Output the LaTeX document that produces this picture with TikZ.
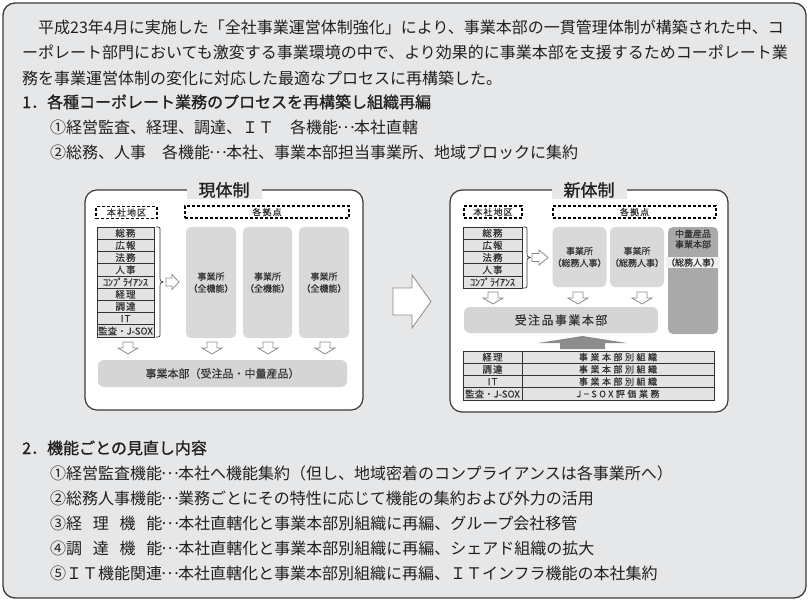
\documentclass[tikz,border=0pt]{standalone}
\usepackage{fontspec}
\setmainfont{Noto Sans CJK JP}
\newfontfamily\jpmed[FakeBold=1]{Noto Sans CJK JP}
\newfontfamily\jpdia[FakeBold=0.4]{Noto Sans CJK JP}
\newfontfamily\jpdiasp[FakeBold=0.4,LetterSpace=12]{Noto Sans CJK JP}
\newfontfamily\jpdiawide[FakeBold=0.4,LetterSpace=28]{Noto Sans CJK JP}
\newcommand\mydots{\makebox[1em][c]{\raisebox{0.3em}{.}\hspace{0.12em}\raisebox{0.3em}{.}\hspace{0.12em}\raisebox{0.3em}{.}}}
\definecolor{bg}{HTML}{E6E7E8}
\definecolor{frame}{HTML}{3A3A3A}
\definecolor{ink}{HTML}{231F20}
\definecolor{dink}{HTML}{333333}
\definecolor{cellf}{HTML}{E3E3E3}
\definecolor{colf}{HTML}{D9D9D9}
\definecolor{barf}{HTML}{D5D5D5}
\definecolor{darkcol}{HTML}{A9A9A9}
\definecolor{arrg}{HTML}{8C8C8C}
\tikzset{
  line/.style={anchor=west,inner sep=0pt,text=ink,font=\fontsize{16}{16}\selectfont,text height=14pt,text depth=2pt},
  head/.style={line,font=\jpmed\fontsize{16}{16}\selectfont},
  panel/.style={draw=frame,line width=1.2pt,fill=white,rounded corners=12pt},
  ptitle/.style={fill=bg,inner xsep=12pt,inner ysep=1pt,text=ink,font=\jpmed\fontsize{17}{17}\selectfont},
  dbox/.style={draw=black,line width=1.1pt,dash pattern=on 3pt off 2pt,fill=white,inner sep=0pt,text=dink,font=\jpdiasp\fontsize{9}{9}\selectfont},
  cell/.style={draw=dink,line width=0.6pt,fill=cellf,inner sep=0pt,text=dink,font=\jpdiasp\fontsize{9.5}{9.5}\selectfont},
  col/.style={fill=colf,rounded corners=5pt,inner sep=0pt,align=center,text=dink,font=\jpdia\fontsize{9}{12}\selectfont},
  bar/.style={fill=barf,rounded corners=6pt,inner sep=0pt,text=dink},
  blockarr/.style={draw=arrg,line width=0.8pt,fill=white,line join=miter},
  brace/.style={draw=dink,line width=0.7pt},
  downarr/.pic={\draw[blockarr] (-5,0) -- (5,0) -- (5,6) -- (10,6) -- (0,12) -- (-10,6) -- (-5,6) -- cycle;},
}
\begin{document}
\begin{tikzpicture}[x=1pt,y=-1pt]
\useasboundingbox (0,0) rectangle (810,602);
% outer frame
\draw[draw=frame,line width=1.3pt,fill=bg,rounded corners=12pt] (3,3) rectangle (806,598);

% top text
\node[line] (t1) at (22,28) {　平成23年4月に実施した「全社事業運営体制強化」により、事業本部の一貫管理体制が構築された中、コ};
\node[line] (t2) at (22,53) {ーポレート部門においても激変する事業環境の中で、より効果的に事業本部を支援するためコーポレート業};
\node[line] (t3) at (22,78) {務を事業運営体制の変化に対応した最適なプロセスに再構築した。};
\node[head] (t4) at (22,102) {1．各種コーポレート業務のプロセスを再構築し組織再編};
\node[line] (t5) at (50,127) {①経営監査、経理、調達、ＩＴ　各機能\mydots 本社直轄};
\node[line] (t6) at (50,152) {②総務、人事　各機能\mydots 本社、事業本部担当事業所、地域ブロックに集約};

% ===== left panel =====
\draw[panel] (85,190) rectangle (363,410);
\node[ptitle] (ltitle) at (224,190) {現体制};
\node[dbox,minimum width=61pt,minimum height=12pt] (lhq) at (126.5,212.5) {本社地区};
\node[dbox,minimum width=164pt,minimum height=12pt] (lbase) at (267,212) {各拠点};
\foreach \t [count=\i] in {総務,広報,法務,人事,{\jpdia\fontsize{10}{10}\selectfont ｺﾝﾌﾟﾗｲｱﾝｽ},経理,調達,IT,{\jpdia 監査・J-SOX}}
  \node[cell,minimum width=57pt,minimum height=12.22pt] (L\i) at (125.5,{227+12.22*(\i-0.5)}) {\t};
\draw[brace] (156,227) .. controls (160,227) .. (160,231) -- (160,278) .. controls (160,281) .. (163,282) .. controls (160,283) .. (160,286) -- (160,333) .. controls (160,337) .. (156,337);
\draw[blockarr] (166,278) -- (172,278) -- (172,274.5) -- (179,282) -- (172,289.5) -- (172,286) -- (166,286) -- cycle;
\node[col,minimum width=50pt,minimum height=111pt] (lc1) at (211,282.5) {事業所\\（全機能）};
\node[col,minimum width=49pt,minimum height=111pt] (lc2) at (267.5,282.5) {事業所\\（全機能）};
\node[col,minimum width=50pt,minimum height=111pt] (lc3) at (324,282.5) {事業所\\（全機能）};
\foreach \x in {128,212,268,325} \pic at (\x,342) {downarr};
\node[bar,minimum width=249pt,minimum height=27pt,font=\jpdia\fontsize{11}{11}\selectfont] (lhd) at (222.5,373.5) {事業本部（受注品・中量産品）};

% big arrow
\draw[blockarr] (393,288) -- (412,288) -- (412,275) -- (431,301.5) -- (412,328) -- (412,315) -- (393,315) -- cycle;

% ===== right panel =====
\draw[panel] (450,190) rectangle (728,412);
\node[ptitle] (rtitle) at (589,190) {新体制};
\node[dbox,minimum width=58pt,minimum height=12pt] (rhq) at (493,212) {本社地区};
\node[dbox,minimum width=163pt,minimum height=12pt] (rbase) at (634.5,212) {各拠点};
\foreach \t [count=\i] in {総務,広報,法務,人事,{\jpdia\fontsize{10}{10}\selectfont ｺﾝﾌﾟﾗｲｱﾝｽ}}
  \node[cell,minimum width=59pt,minimum height=12.2pt] (R\i) at (492.5,{227+12.2*(\i-0.5)}) {\t};
\draw[brace] (523,227) .. controls (527,227) .. (527,231) -- (527,253.5) .. controls (527,256.5) .. (530,257.5) .. controls (527,258.5) .. (527,261.5) -- (527,284) .. controls (527,288) .. (523,288);
\draw[blockarr] (532,253.5) -- (539,253.5) -- (539,250) -- (548,257.5) -- (539,265) -- (539,261.5) -- (532,261.5) -- cycle;
\node[col,minimum width=49pt,minimum height=60pt] (rc1) at (579.5,257) {事業所\\（総務人事）};
\node[col,minimum width=48pt,minimum height=60pt] (rc2) at (637,257) {事業所\\（総務人事）};
\node[col,fill=darkcol,minimum width=50pt,minimum height=107pt] (rc3) at (693,280.5) {};
\node[inner sep=0pt,align=center,text=dink,font=\jpdia\fontsize{9}{10.5}\selectfont] (rc3t) at (693,239) {中量産品\\事業本部};
\node[fill=white!94!black,minimum width=50pt,minimum height=11pt,inner sep=0pt,text=dink,font=\jpdia\fontsize{9}{9}\selectfont] (rc3b) at (693,262.5) {（総務人事）};
\foreach \x in {493,578,642} \pic at (\x,292) {downarr};
\node[bar,minimum width=194pt,minimum height=26pt,font=\jpdiasp\fontsize{12}{12}\selectfont] (rhd) at (561,320) {受注品事業本部};
\fill[arrg] (582.5,336) -- (627,343) -- (605,343) -- (605,349) -- (560,349) -- (560,343) -- (538,343) -- cycle;
\foreach \a/\b [count=\i] in {経理/事業本部別組織,調達/事業本部別組織,IT/事業本部別組織,{\jpdia 監査・J-SOX}/J−SOX評価業務}{
  \node[cell,minimum width=59pt,minimum height=12.25pt] (TL\i) at (492.5,{351+12.25*(\i-0.5)}) {\a};
  \node[cell,minimum width=192pt,minimum height=12.25pt,font=\jpdiawide\fontsize{9}{9}\selectfont] (TR\i) at (618,{351+12.25*(\i-0.5)}) {\b};
}

% bottom text
\node[head] (b0) at (22,448) {2．機能ごとの見直し内容};
\node[line] (b1) at (50,473) {①経営監査機能\mydots 本社へ機能集約（但し、地域密着のコンプライアンスは各事業所へ）};
\node[line] (b2) at (50,498) {②総務人事機能\mydots 業務ごとにその特性に応じて機能の集約および外力の活用};
\node[line] (b3) at (50,523) {③経\hspace{0.67em}理\hspace{0.67em}機\hspace{0.67em}能\mydots 本社直轄化と事業本部別組織に再編、グループ会社移管};
\node[line] (b4) at (50,548) {④調\hspace{0.67em}達\hspace{0.67em}機\hspace{0.67em}能\mydots 本社直轄化と事業本部別組織に再編、シェアド組織の拡大};
\node[line] (b5) at (50,573) {⑤ＩＴ機能関連\mydots 本社直轄化と事業本部別組織に再編、ＩＴインフラ機能の本社集約};
\end{tikzpicture}
\end{document}
